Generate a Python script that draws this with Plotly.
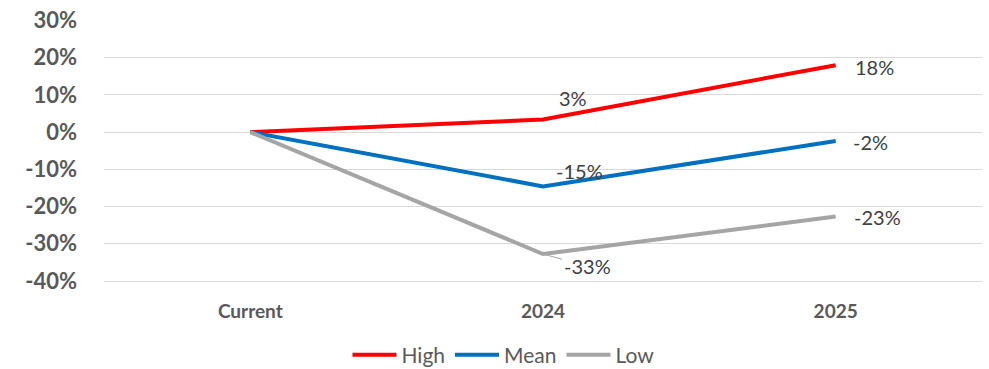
import plotly.graph_objects as go

# Scenario projections relative to the current level
categories = ["Current", "2024", "2025"]
high = [0.0, 0.034, 0.18]
mean = [0.0, -0.146, -0.024]
low = [0.0, -0.328, -0.227]

y_ticks = [0.3, 0.2, 0.1, 0.0, -0.1, -0.2, -0.3, -0.4]
y_tick_text = ["30%", "20%", "10%", "0%", "-10%", "-20%", "-30%", "-40%"]

series = [
    ("High", high, "#FF0000"),
    ("Mean", mean, "#0070C0"),
    ("Low", low, "#A5A5A5"),
]

FONT = "Lato, Open Sans, sans-serif"

fig = go.Figure()
for name, vals, color in series:
    fig.add_trace(go.Scatter(
        x=categories, y=vals, name=name, mode="lines",
        line=dict(color=color, width=4),
    ))


def pct(v):
    return f"{round(v * 100):.0f}%"


# Value labels (pixel offsets from each point); x given as category index
label_font = dict(family=FONT, size=20, color="#404040")
offsets = {
    ("High", 1): (30, 21), ("High", 2): (39, -2),
    ("Mean", 1): (36, 15), ("Mean", 2): (35, -1),
    ("Low", 2): (42, -1),
}
for name, vals, _ in series:
    for i in (1, 2):
        if (name, i) not in offsets:
            continue
        dx, dy = offsets[(name, i)]
        fig.add_annotation(
            x=i, y=vals[i], text=pct(vals[i]),
            showarrow=False, xshift=dx, yshift=dy, font=label_font,
        )
# Low 2024 label sits below the point with a short leader line
fig.add_annotation(
    x=1, y=low[1], text=pct(low[1]),
    showarrow=True, arrowhead=0, arrowwidth=1, arrowcolor="#A5A5A5",
    ax=44, ay=12, font=label_font,
)

fig.update_layout(
    width=989, height=369,
    margin=dict(l=104, r=7, t=20, b=88, autoexpand=False),
    plot_bgcolor="white", paper_bgcolor="white",
    showlegend=True,
    legend=dict(
        orientation="h", x=0.455, y=0.038, xanchor="center", yanchor="middle",
        yref="container",
        font=dict(family=FONT, size=21, color="#595959"),
        itemwidth=44, traceorder="normal",
    ),
)
fig.update_xaxes(
    type="category", range=[-0.5, 2.5], showgrid=False, automargin=False,
    showline=True, linecolor="#D9D9D9", linewidth=1,
    ticks="", ticklabelstandoff=13,
    tickfont=dict(family=FONT, size=19, color="#595959", weight="bold"),
)
fig.update_yaxes(
    range=[-0.4005, 0.3015], tickvals=y_ticks, ticktext=y_tick_text,
    showgrid=True, gridcolor="#D9D9D9", gridwidth=1, zeroline=False, automargin=False,
    ticks="", ticklabelstandoff=26,
    tickfont=dict(family=FONT, size=22, color="#595959", weight="bold"),
)

fig.write_html("out.html")
